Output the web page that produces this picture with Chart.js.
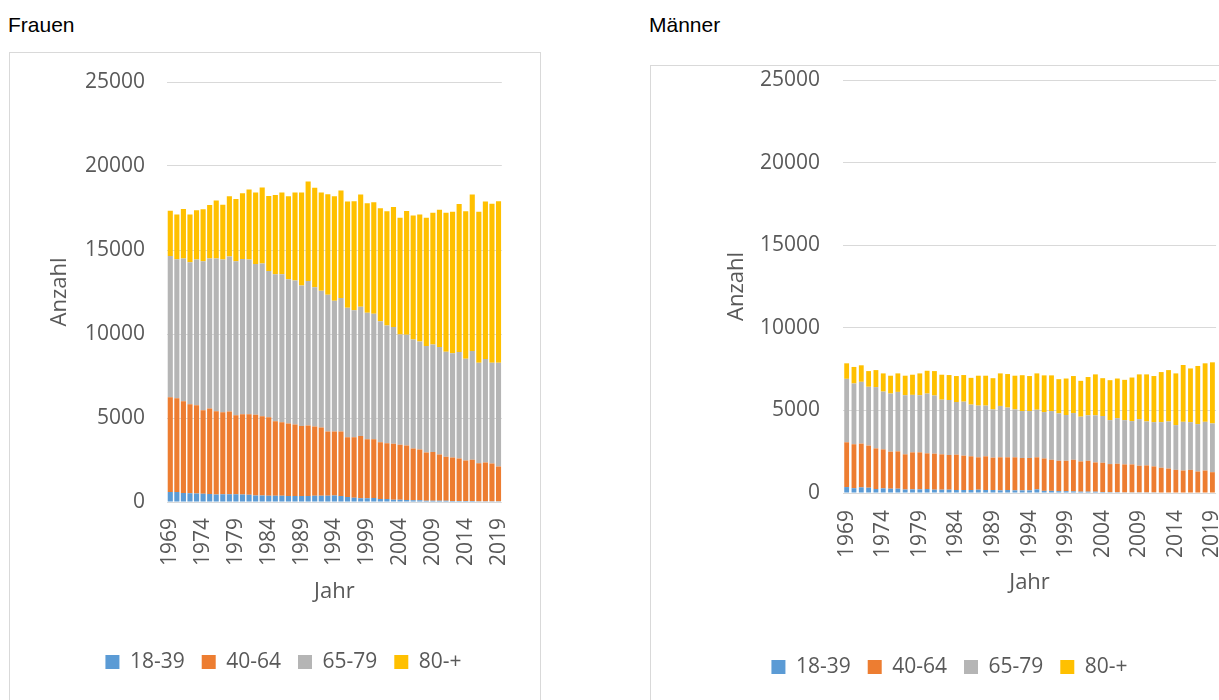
<!DOCTYPE html>
<html>
<head>
<meta charset="utf-8">
<title>Frauen / Männer</title>
<script src="https://cdn.jsdelivr.net/npm/chart.js"></script>
<style>
  body { margin: 0; width: 1219px; height: 700px; overflow: hidden; background: #fff; position: relative; }
  .title { position: absolute; top: 15px; font-family: 'Liberation Sans', Arial, sans-serif; font-size: 21px; line-height: 20px; color: #000; }
  .box { position: absolute; border: 1px solid #d9d9d9; height: 700px; }
  .box canvas { display: block; }
</style>
</head>
<body>
<div class="title" style="left:8px">Frauen</div>
<div class="title" style="left:649px">Männer</div>
<div class="box" style="left:9px; top:52px; width:530px"><canvas id="chartFrauen" width="530" height="660"></canvas></div>
<div class="box" style="left:650px; top:65px; width:604px"><canvas id="chartMaenner" width="604" height="660"></canvas></div>
<script>
'use strict';

let years = ['1969', '1970', '1971', '1972', '1973', '1974', '1975', '1976', '1977', '1978',
  '1979', '1980', '1981', '1982', '1983', '1984', '1985', '1986', '1987', '1988',
  '1989', '1990', '1991', '1992', '1993', '1994', '1995', '1996', '1997', '1998',
  '1999', '2000', '2001', '2002', '2003', '2004', '2005', '2006', '2007', '2008',
  '2009', '2010', '2011', '2012', '2013', '2014', '2015', '2016', '2017', '2018', '2019'];
let shownYears = ['1969', '1974', '1979', '1984', '1989', '1994', '1999', '2004', '2009', '2014', '2019'];
let yTicks = [0, 5000, 10000, 15000, 20000, 25000];
let seriesNames = ['18-39', '40-64', '65-79', '80-+'];
let seriesColors = ['#5B9BD5', '#ED7D31', '#B5B5B5', '#FFC000'];

let frauen1839 = [600, 590, 530, 520, 500, 490, 480, 450, 460, 460, 460, 450, 430, 390, 380, 370, 370, 370, 350, 350,
  360, 360, 370, 370, 370, 380, 360, 300, 260, 220, 220, 240, 180, 180, 140, 140, 120, 100, 100, 80,
  80, 80, 80, 60, 60, 60, 60, 50, 50, 50, 50];
let frauen4064 = [5640, 5590, 5470, 5300, 5260, 4970, 5080, 4950, 4880, 4920, 4700, 4770, 4790, 4810, 4720, 4670, 4430, 4370, 4330, 4270,
  4170, 4200, 4120, 4070, 3830, 3820, 3840, 3550, 3590, 3710, 3510, 3490, 3370, 3310, 3330, 3270, 3250, 3090, 3030, 2870,
  2890, 2750, 2610, 2590, 2530, 2410, 2450, 2260, 2300, 2240, 2060];
let frauen6579 = [8410, 8270, 8490, 8450, 8670, 8870, 8930, 9090, 9090, 9230, 9170, 9250, 9210, 8970, 9090, 8710, 8760, 8820, 8580, 8560,
  8350, 8600, 8290, 8140, 8140, 7780, 7940, 7710, 7570, 7690, 7530, 7470, 7210, 7010, 6950, 6560, 6580, 6480, 6420, 6340,
  6400, 6400, 6260, 6200, 6340, 6060, 6480, 5980, 6160, 6000, 6180];
let frauen80 = [2690, 2670, 2950, 2850, 2930, 3090, 3190, 3450, 3270, 3590, 3710, 3910, 4170, 4250, 4530, 4470, 4720, 4860, 4940, 5240,
  5540, 5920, 5920, 5840, 5980, 6220, 6400, 6320, 6480, 6680, 6520, 6640, 6720, 6800, 7140, 6950, 7370, 7390, 7570, 7630,
  7850, 8170, 8270, 8430, 8810, 8770, 9310, 8990, 9370, 9470, 9610];

let maenner1839 = [360, 290, 340, 320, 240, 280, 260, 260, 210, 220, 220, 240, 200, 200, 200, 180, 180, 180, 200, 180,
  180, 160, 180, 160, 160, 160, 220, 130, 130, 110, 110, 100, 80, 80, 80, 60, 50, 50, 40, 40,
  40, 40, 40, 30, 30, 30, 30, 30, 30, 30, 30];
let maenner4064 = [2710, 2660, 2650, 2550, 2460, 2360, 2240, 2260, 2130, 2240, 2240, 2160, 2180, 2140, 2100, 2140, 2080, 2040, 1960, 2040,
  1960, 2000, 1980, 2000, 1960, 1960, 1940, 1960, 1880, 1840, 1840, 1910, 1830, 1870, 1770, 1770, 1700, 1720, 1690, 1690,
  1610, 1630, 1570, 1500, 1450, 1370, 1330, 1370, 1270, 1330, 1230];
let maenner6579 = [3840, 3680, 3740, 3560, 3710, 3500, 3520, 3600, 3580, 3480, 3460, 3620, 3520, 3310, 3330, 3190, 3270, 3130, 3130, 3070,
  2920, 3110, 3010, 2900, 2840, 2840, 2880, 2810, 2950, 2870, 2770, 2830, 2710, 2750, 2850, 2830, 2660, 2760, 2680, 2620,
  2820, 2660, 2680, 2760, 2850, 2710, 2950, 2890, 2870, 2950, 2950];
let maenner80 = [940, 1000, 1000, 950, 1030, 1100, 1080, 1120, 1180, 1220, 1320, 1380, 1480, 1510, 1510, 1570, 1610, 1620, 1810, 1810,
  1890, 1970, 2030, 2040, 2170, 2120, 2200, 2220, 2160, 2070, 2210, 2240, 2170, 2320, 2480, 2290, 2420, 2400, 2440, 2640,
  2710, 2850, 2790, 3030, 3110, 3130, 3440, 3250, 3520, 3540, 3700];

Chart.defaults.font.family = "'Open Sans', 'DejaVu Sans', sans-serif";
Chart.defaults.color = '#595959';

// lay = pixel layout of one chart inside its canvas
function drawChart(canvasId, values, lay) {
  let datasets = [];
  for (let i = 0; i < seriesNames.length; i++) {
    datasets.push({
      label: seriesNames[i],
      data: values[i],
      backgroundColor: seriesColors[i],
      borderWidth: 0,
      barPercentage: lay.bar,
      categoryPercentage: 1
    });
  }
  return new Chart(document.getElementById(canvasId), {
    type: 'bar',
    data: { labels: years, datasets: datasets },
    options: {
      responsive: false,
      animation: false,
      devicePixelRatio: 1,
      layout: { padding: { top: lay.top, right: lay.right, bottom: lay.bottom, left: lay.left } },
      plugins: {
        legend: {
          position: 'bottom',
          labels: { boxWidth: 14, boxHeight: 14, padding: 17, color: '#595959', font: { size: 21 } }
        },
        tooltip: { enabled: false }
      },
      scales: {
        x: {
          stacked: true,
          grid: { display: false, drawTicks: false },
          border: { display: false },
          ticks: {
            autoSkip: false,
            minRotation: 90,
            maxRotation: 90,
            padding: lay.tickPad,
            font: { size: 21 },
            callback: function (value, index) {
              return shownYears.includes(years[index]) ? years[index] : '';
            }
          },
          title: { display: true, text: 'Jahr', font: { size: 22 }, padding: { top: 0, bottom: lay.jahrPad } },
          afterFit: function (scale) { scale.height = lay.xHeight; }
        },
        y: {
          stacked: true,
          min: 0,
          max: 25000,
          // invisible tick marks keep the labels away from the plot without padding the top
          grid: { color: '#d9d9d9', lineWidth: 1, drawTicks: true, tickLength: lay.yPad, tickColor: 'rgba(0,0,0,0)' },
          border: { display: false },
          ticks: {
            padding: 0,
            font: { size: 21 },
            callback: function (value) { return String(value); }
          },
          afterBuildTicks: function (scale) {
            scale.ticks = yTicks.map(function (v) { return { value: v }; });
          },
          title: { display: true, text: 'Anzahl', font: { size: 22 }, padding: { top: lay.anzahlPad, bottom: 0 } },
          afterFit: function (scale) { scale.width = lay.yWidth; }
        }
      }
    }
  });
}

drawChart('chartFrauen', [frauen1839, frauen4064, frauen6579, frauen80], {
  bar: 0.78, top: 29, right: 28, bottom: 30.5, left: 45, tickPad: 16, jahrPad: 30, xHeight: 132.5,
  yPad: 22, yWidth: 112, anzahlPad: -8
});
drawChart('chartMaenner', [maenner1839, maenner4064, maenner6579, maenner80], {
  bar: 0.66, top: 14, right: 38, bottom: 38.5, left: 31, tickPad: 17, jahrPad: 44, xHeight: 146.5,
  yPad: 23, yWidth: 161, anzahlPad: 42
});
</script>
</body>
</html>
